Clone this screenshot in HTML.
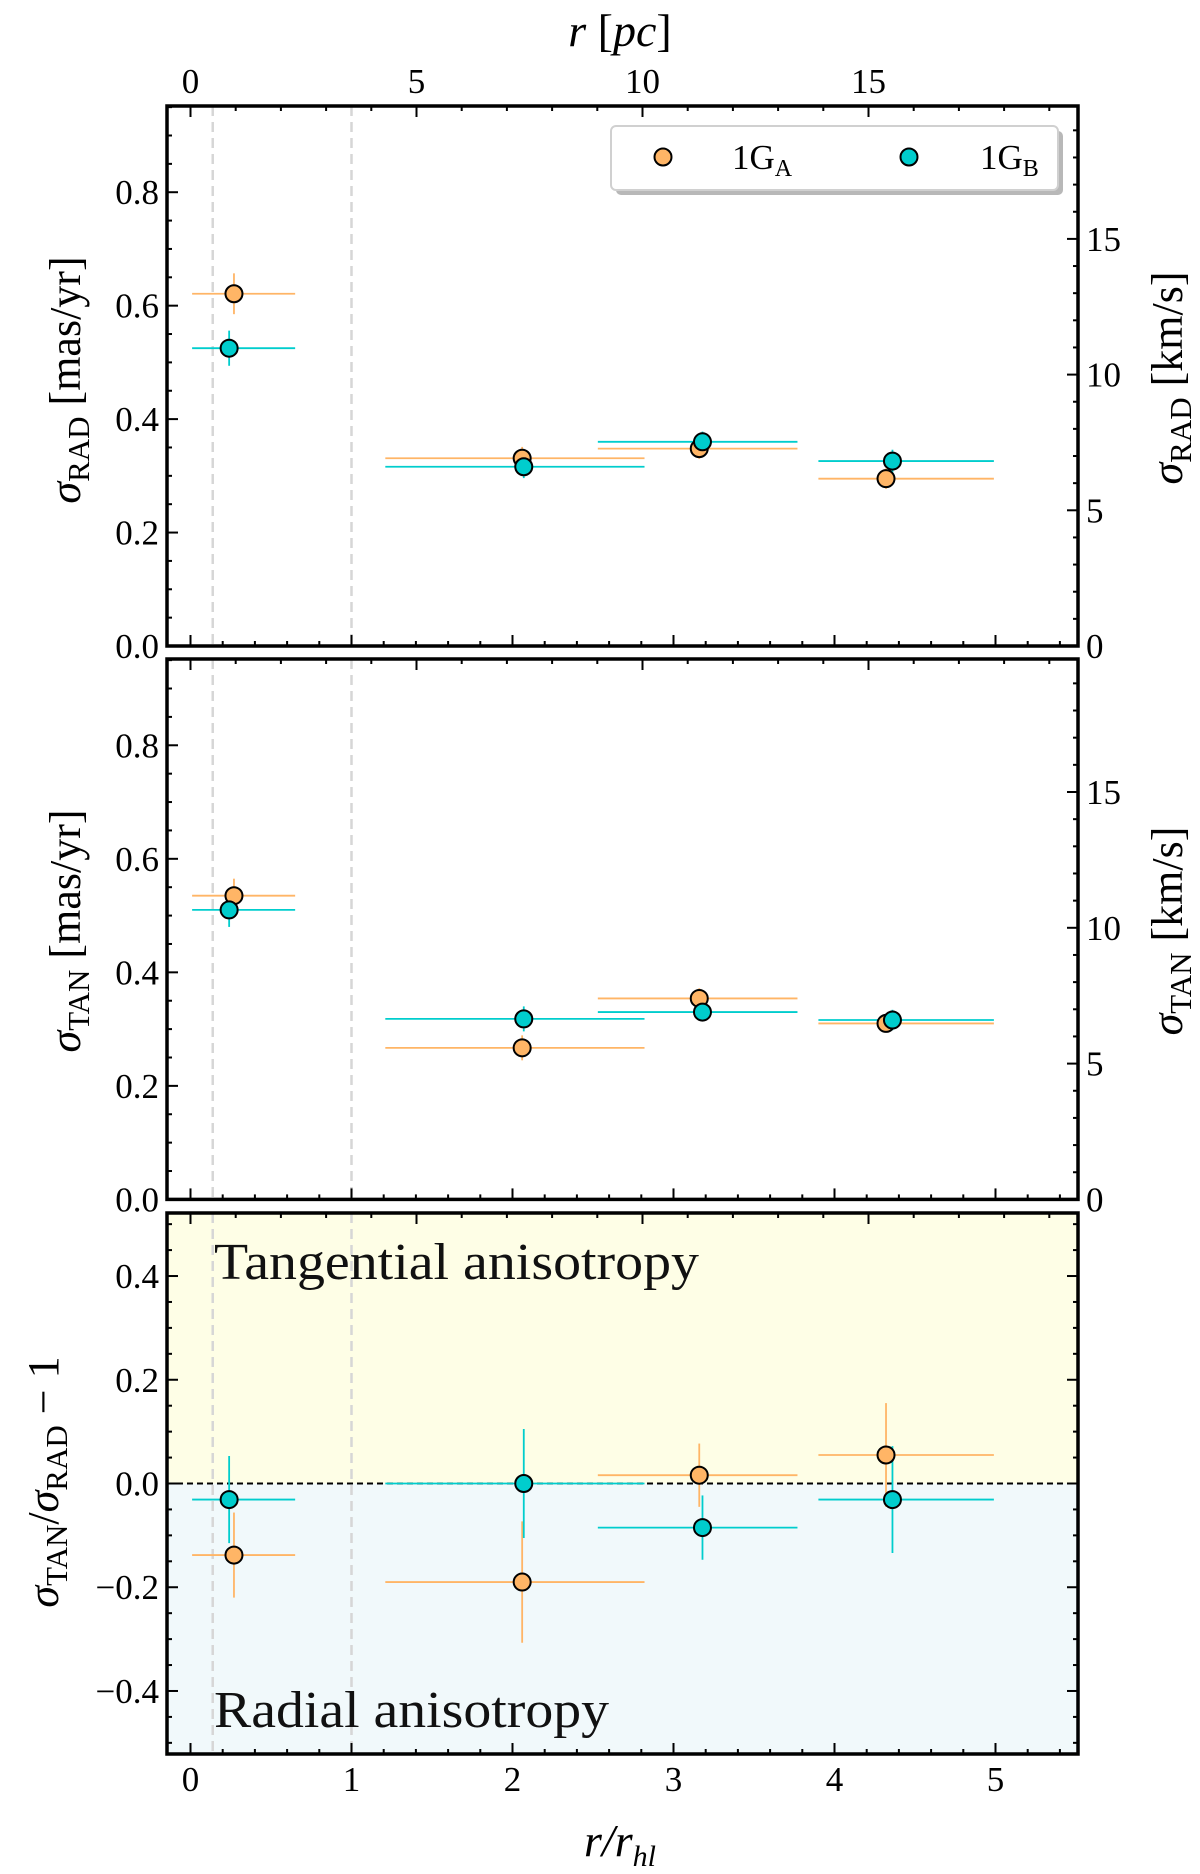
<!DOCTYPE html>
<html><head><meta charset="utf-8">
<style>
html,body{margin:0;padding:0;background:#fff;}
svg{display:block;font-family:"Liberation Serif",serif;}
</style></head>
<body>
<svg id="chart" width="1200" height="1874" viewBox="0 0 1200 1874" xmlns="http://www.w3.org/2000/svg"></svg>
<script>
// ---- data ----
const radRx = [0.27, 2.06, 3.16, 4.32];
const radBx = [0.24, 2.07, 3.18, 4.36];
const binLo = [0.01, 1.21, 2.53, 3.90];
const binHi = [0.65, 2.82, 3.77, 4.99];
const radA = [0.621, 0.331, 0.348, 0.295];
const radAerr = [0.036, 0.02, 0.018, 0.018];
const radB = [0.525, 0.316, 0.360, 0.326];
const radBerr = [0.031, 0.02, 0.018, 0.02];
const tanA = [0.535, 0.267, 0.354, 0.310];
const tanAerr = [0.03, 0.022, 0.018, 0.016];
const tanB = [0.510, 0.318, 0.330, 0.316];
const tanBerr = [0.03, 0.022, 0.016, 0.018];
const anisA = [-0.138, -0.19, 0.016, 0.055];
const anisAerr = [0.082, 0.117, 0.061, 0.10];
const anisB = [-0.031, 0.0, -0.085, -0.031];
const anisBerr = [0.084, 0.105, 0.062, 0.103];
const xTicks = [0, 1, 2, 3, 4, 5];
const pcTicks = [0, 5, 10, 15];
const kmTicks = [0, 5, 10, 15];
const sigTicks = [0.0, 0.2, 0.4, 0.6, 0.8];
const anisTicks = [-0.4, -0.2, 0.0, 0.2, 0.4];

const NS = "http://www.w3.org/2000/svg";
const svg = document.getElementById('chart');
const L = 167, R = 1078;
const X = v => 190.5 + 161 * v;
const PC = v => 190.5 + 45.2 * v;
const KM = 20.9;
const ORANGE = '#ffb566', CYAN = '#00cdcd';
function mk(tag, attrs, parent) {
  const e = document.createElementNS(NS, tag);
  for (const k in attrs) e.setAttribute(k, attrs[k]);
  (parent || svg).appendChild(e);
  return e;
}
const panels = [
  {top:106, bot:646, ymin:0, ymax:0.952, name:'rad'},
  {top:659, bot:1199.4, ymin:0, ymax:0.952, name:'tan'},
  {top:1213, bot:1754, ymin:-0.5215, ymax:0.5215, name:'anis'}
];
panels.forEach((p, pi) => {
  const Y = v => p.bot - (v - p.ymin) / (p.ymax - p.ymin) * (p.bot - p.top);
  p.Y = Y;
  const g = mk('g', {});
  
  
  if (pi === 2) {
    const ry = mk('rect', {x:L, y:p.top, width:R-L, height:Y(0)-p.top, fill:'#fefee6'}, g);
    
    
    const rb = mk('rect', {x:L, y:Y(0), width:R-L, height:p.bot-Y(0), fill:'#f1f9fb'}, g);
    
    
  }
  [0.138, 1.0].forEach(xv => {
    const dl = mk('line', {x1:X(xv), x2:X(xv), y1:p.top, y2:p.bot, stroke:'#d6d6d6', 'stroke-width':2.5, 'stroke-dasharray':'10,6'}, g);
    
    
  });
  if (pi === 2) {
    const zl = mk('line', {x1:L, x2:R, y1:Y(0), y2:Y(0), stroke:'#000', 'stroke-width':2, 'stroke-dasharray':'6,4'}, g);
    
    
    const t1 = mk('text', {x:214, y:1279, 'font-size':52, fill:'#111', textLength:485, lengthAdjust:'spacingAndGlyphs'}, g);
    t1.textContent = 'Tangential anisotropy';
    
    
    const t2 = mk('text', {x:214, y:1727, 'font-size':52, fill:'#111', textLength:395, lengthAdjust:'spacingAndGlyphs'}, g);
    t2.textContent = 'Radial anisotropy';
    
    
  }
  for (let v = 0; v <= 5.5; v = Math.round((v + 0.2) * 10) / 10) {
    const major = Math.abs(v - Math.round(v)) < 1e-6;
    const t = mk('line', {x1:X(v), x2:X(v), y1:p.bot, y2:p.bot - (major ? 11 : 5), stroke:'#000', 'stroke-width':2}, g);
    
    
  }
  for (let v = 0; v <= 19; v++) {
    if (PC(v) > R) break;
    const major = v % 5 === 0;
    const t = mk('line', {x1:PC(v), x2:PC(v), y1:p.top, y2:p.top + (major ? 11 : 5), stroke:'#000', 'stroke-width':2}, g);
    
    
  }
  const step = 0.05;
  for (let v = Math.ceil(p.ymin / step) * step; v <= p.ymax + 1e-9; v += step) {
    const vv = Math.round(v * 100) / 100;
    const major = Math.abs(vv * 5 - Math.round(vv * 5)) < 1e-6;
    const t = mk('line', {x1:L, x2:L + (major ? 11 : 5), y1:Y(vv), y2:Y(vv), stroke:'#000', 'stroke-width':2}, g);
    
    
    if (pi === 2) {
      const t2 = mk('line', {x1:R, x2:R - (major ? 11 : 5), y1:Y(vv), y2:Y(vv), stroke:'#000', 'stroke-width':2}, g);
      
      
    }
  }
  const yt = pi === 2 ? anisTicks : sigTicks;
  yt.forEach(v => {
    const lab = mk('text', {x:159, y:Y(v) + 12, 'font-size':35, 'text-anchor':'end'}, g);
    lab.textContent = (v < 0 ? '\u2212' : '') + Math.abs(v).toFixed(1);
    
    
  });
  if (pi < 2) {
    for (let k = 0; k <= 19; k++) {
      const yy = Y(k / KM);
      if (yy < p.top) break;
      const major = k % 5 === 0;
      const t = mk('line', {x1:R, x2:R - (major ? 11 : 5), y1:yy, y2:yy, stroke:'#000', 'stroke-width':2}, g);
      
      
    }
    kmTicks.forEach(k => {
      const lab = mk('text', {x:1086, y:Y(k / KM) + 12, 'font-size':35}, g);
      lab.textContent = String(k);
      
      
    });
  }
  let aV, aE, bV, bE;
  if (pi === 0) { aV = radA; aE = radAerr; bV = radB; bE = radBerr; }
  else if (pi === 1) { aV = tanA; aE = tanAerr; bV = tanB; bE = tanBerr; }
  else { aV = anisA; aE = anisAerr; bV = anisB; bE = anisBerr; }
  const series = [[aV, aE, radRx, ORANGE, '1GA'], [bV, bE, radBx, CYAN, '1GB']];
  series.forEach(s => {
    const [vals, errs, xs, col, nm] = s;
    vals.forEach((v, i) => {
      const h = mk('line', {x1:X(binLo[i]), x2:X(binHi[i]), y1:Y(v), y2:Y(v), stroke:col, 'stroke-width':1.8}, g);
      
      
      const ev = mk('line', {x1:X(xs[i]), x2:X(xs[i]), y1:Y(v + errs[i]), y2:Y(v - errs[i]), stroke:col, 'stroke-width':1.8}, g);
      
      
    });
  });
  series.forEach(s => {
    const [vals, errs, xs, col, nm] = s;
    vals.forEach((v, i) => {
      const c = mk('circle', {cx:X(xs[i]), cy:Y(v), r:8.5, fill:col, stroke:'#000', 'stroke-width':2}, g);
      
      
    });
  });
  const fr = mk('rect', {x:L, y:p.top, width:R-L, height:p.bot-p.top, fill:'none', stroke:'#000', 'stroke-width':3.5}, g);
  
  
});
xTicks.forEach(v => {
  const t = mk('text', {x:X(v), y:1791, 'font-size':35, 'text-anchor':'middle'});
  t.textContent = String(v);
  
  
});
pcTicks.forEach(v => {
  const t = mk('text', {x:PC(v), y:93, 'font-size':35, 'text-anchor':'middle'});
  t.textContent = String(v);
  
  
});
const xt = mk('text', {x:620, y:1856, 'font-size':46, 'text-anchor':'middle', 'font-style':'italic'});
xt.innerHTML = 'r/r<tspan font-size="30" dy="10">hl</tspan>';


const tt = mk('text', {x:620, y:46, 'font-size':46, 'text-anchor':'middle'});
tt.innerHTML = '<tspan font-style="italic">r</tspan> [<tspan font-style="italic">pc</tspan>]';


function ytitle(cx, cy, sub, unit, name, len) {
  const t = mk('text', {x:0, y:0, 'font-size':44, 'text-anchor':'middle', transform:`translate(${cx},${cy}) rotate(-90)`});
  t.innerHTML = '<tspan font-style="italic">σ</tspan><tspan font-size="31" dy="9">' + sub + '</tspan><tspan dy="-9">' + unit + '</tspan>';
  
  
}
ytitle(80, 380, 'RAD', ' [mas/yr]', 'rad-y-axis-title');
ytitle(1182, 378, 'RAD', ' [km/s]', 'rad-right-axis-title');
ytitle(80, 931, 'TAN', ' [mas/yr]', 'tan-y-axis-title');
ytitle(1182, 931, 'TAN', ' [km/s]', 'tan-right-axis-title');
const at = mk('text', {x:0, y:0, 'font-size':44, 'text-anchor':'middle', transform:'translate(58,1482) rotate(-90)'});
at.innerHTML = '<tspan font-style="italic">σ</tspan><tspan font-size="31" dy="9">TAN</tspan><tspan dy="-9">/</tspan><tspan font-style="italic">σ</tspan><tspan font-size="31" dy="9">RAD</tspan><tspan dy="-9"> − 1</tspan>';


const lg = mk('g', {});


const sh = mk('rect', {x:616, y:131, width:447, height:64, rx:5, fill:'#b8b8b8'}, lg);


const bx = mk('rect', {x:611, y:126, width:447, height:64, rx:5, fill:'#fff', stroke:'#d0d0d0', 'stroke-width':2}, lg);


const la = mk('circle', {cx:663, cy:157, r:8.5, fill:ORANGE, stroke:'#000', 'stroke-width':2}, lg);


const lta = mk('text', {x:732, y:169, 'font-size':35}, lg);
lta.innerHTML = '1G<tspan font-size="24" dy="7">A</tspan>';


const lb = mk('circle', {cx:909, cy:157, r:8.5, fill:CYAN, stroke:'#000', 'stroke-width':2}, lg);


const ltb = mk('text', {x:980, y:169, 'font-size':35}, lg);
ltb.innerHTML = '1G<tspan font-size="24" dy="7">B</tspan>';


</script>
</body></html>
